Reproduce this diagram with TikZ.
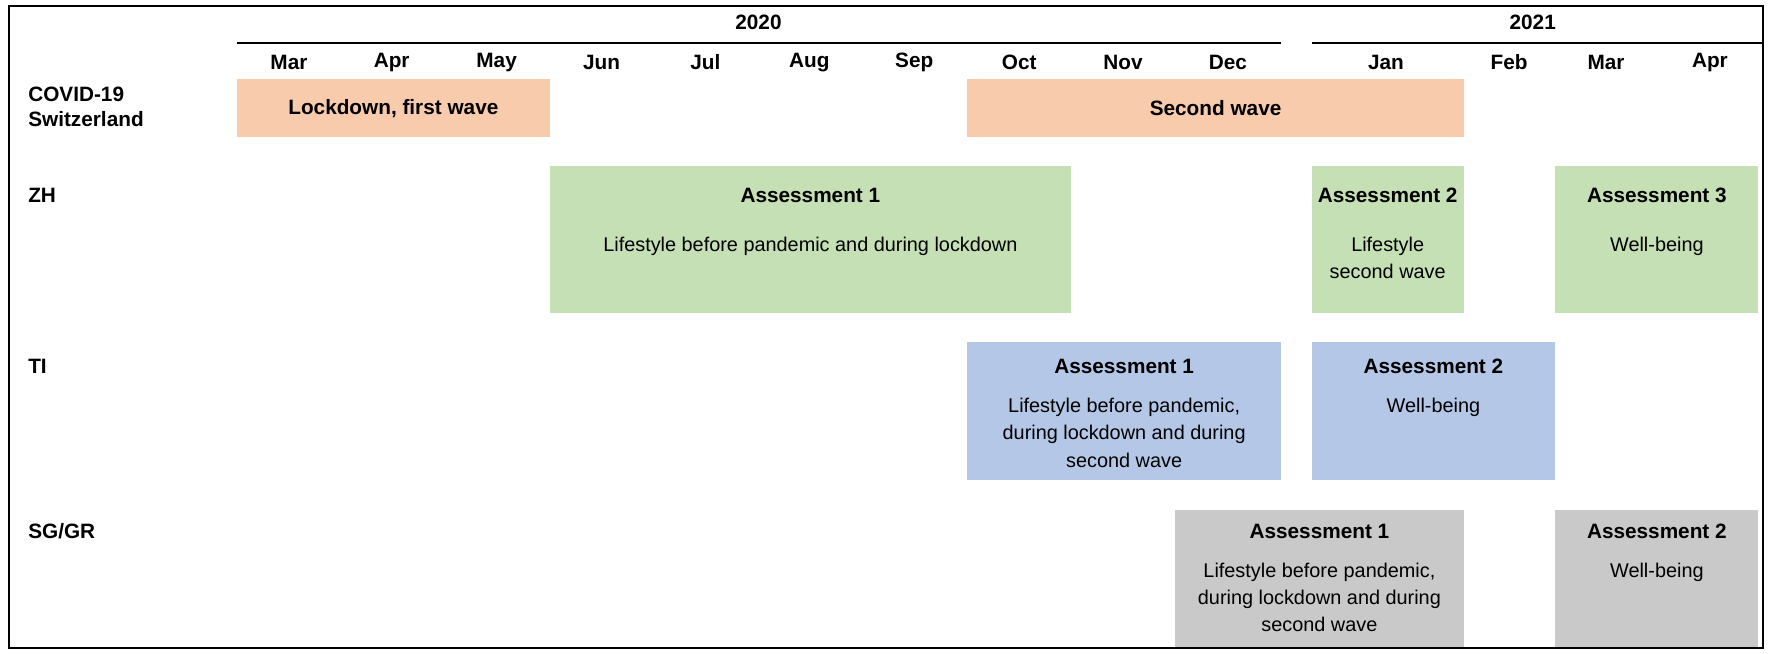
\documentclass[tikz,border=0pt]{standalone}
\usepackage{fontspec}
\setmainfont{Liberation Sans}
\definecolor{cOr}{HTML}{F8CBAD}
\definecolor{cGr}{HTML}{C5E0B4}
\definecolor{cBl}{HTML}{B4C7E7}
\definecolor{cGy}{HTML}{C9C9C9}
\begin{document}
\begin{tikzpicture}[x=0.5pt,y=-0.5pt,
  box/.style={anchor=north west,inner sep=0pt,outer sep=0pt},
  ttl/.style={font=\fontsize{9.2}{11}\selectfont\bfseries},
  txt/.style={font=\fontsize{8.8}{12}\selectfont,align=center,anchor=north},
  mon/.style={font=\fontsize{9.2}{11}\selectfont\bfseries},
  lab/.style={font=\fontsize{9.2}{11}\selectfont\bfseries,anchor=west,align=left}]
\useasboundingbox (0,0) rectangle (1570,579.4);
\draw[line width=1pt] (8,5) rectangle (1562,574);
% years
\node[mon] (y20) at (672,20) {2020};
\node[mon] (y21) at (1358,20) {2021};
\draw[line width=1pt] (210,38) -- (1135,38);
\draw[line width=1pt] (1162,38) -- (1562,38);
% months
\foreach \m/\x [count=\i] in {Mar/256,Apr/347,May/440,Jun/533,Jul/625,Aug/717,Sep/810,Oct/903,Nov/995,Dec/1088,Jan/1228,Feb/1337,Mar/1423,Apr/1515}
  \node[mon] (m\i) at (\x,55) {\m};
% row labels
\node[lab] (lcov) at (18,95) {COVID-19\\Switzerland};
\node[lab] (lzh) at (18,173) {ZH};
\node[lab] (lti) at (18,325) {TI};
\node[lab] (lsg) at (18,471) {SG/GR};
% covid
\fill[cOr] (210,70) rectangle (487,121);
\node[mon] (lock) at (348.5,96) {Lockdown, first wave};
\fill[cOr] (857,70) rectangle (1297,121);
\node[mon] (sec) at (1077,96) {Second wave};
% ZH
\fill[cGr] (487,147) rectangle (949,277);
\node[ttl] (zh1) at (718,173) {Assessment 1};
\node[txt] (zh1t) at (718,203) {Lifestyle before pandemic and during lockdown};
\fill[cGr] (1162,147) rectangle (1297,277);
\node[ttl] (zh2) at (1229.5,173) {Assessment 2};
\node[txt] (zh2t) at (1229.5,203) {Lifestyle\\second wave};
\fill[cGr] (1378,147) rectangle (1558,277);
\node[ttl] (zh3) at (1468,173) {Assessment 3};
\node[txt] (zh3t) at (1468,203) {Well-being};
% TI
\fill[cBl] (857,303) rectangle (1135,425);
\node[ttl] (ti1) at (996,325) {Assessment 1};
\node[txt] (ti1t) at (996,346) {Lifestyle before pandemic,\\during lockdown and during\\second wave};
\fill[cBl] (1162,303) rectangle (1378,425);
\node[ttl] (ti2) at (1270,325) {Assessment 2};
\node[txt] (ti2t) at (1270,346) {Well-being};
% SG/GR
\fill[cGy] (1041,452) rectangle (1297,573);
\node[ttl] (sg1) at (1169,471) {Assessment 1};
\node[txt] (sg1t) at (1169,492) {Lifestyle before pandemic,\\during lockdown and during\\second wave};
\fill[cGy] (1378,452) rectangle (1558,573);
\node[ttl] (sg2) at (1468,471) {Assessment 2};
\node[txt] (sg2t) at (1468,492) {Well-being};
\end{tikzpicture}
\end{document}
